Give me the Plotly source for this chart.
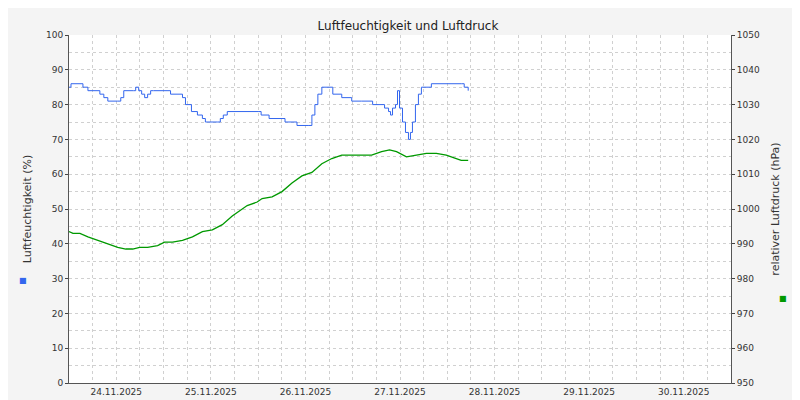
import datetime as dt
import plotly.graph_objects as go

START = dt.datetime(2025, 11, 24)
PX_PER_DAY = 95.0
X0 = 61

# humidity readings: pixel column -> percent
hum_px = [61, 63, 75, 80, 92, 96, 100, 110, 113, 116, 126, 128, 131, 134, 137, 140, 143, 146,
          163, 175, 178, 184, 190, 195, 198, 210, 213, 216, 220, 251, 254, 262, 278, 290, 302,
          305, 308, 311, 315, 323, 326, 335, 345, 355, 366, 378, 382, 384, 386, 389, 391, 393,
          396, 399, 402, 404, 406, 409, 412, 415, 425, 455, 458, 462]
hum_val = [85, 86, 85, 84, 83, 82, 81, 81, 82, 84, 84, 85, 84, 83, 82, 83, 84, 84,
           83, 82, 80, 78, 77, 76, 75, 75, 76, 77, 78, 78, 77, 76, 75, 74, 74,
           77, 80, 83, 85, 85, 83, 82, 81, 81, 80, 79, 78, 77, 79, 80, 84, 79,
           75, 72, 70, 72, 75, 80, 83, 85, 86, 86, 85, 84]

# pressure readings: pixel column -> hPa
pres_px = [61, 65, 72, 80, 90, 100, 110, 118, 125, 132, 140, 150, 157, 165, 175, 185, 195, 205,
           215, 225, 232, 240, 250, 255, 265, 275, 285, 295, 305, 315, 325, 335, 350, 365, 375,
           383, 390, 400, 410, 420, 430, 440, 450, 455, 462]
pres_val = [993.5, 993, 993, 992, 991, 990, 989, 988.5, 988.5, 989, 989, 989.5, 990.5, 990.5,
            991, 992, 993.5, 994, 995.5, 998, 999.5, 1001, 1002, 1003, 1003.5, 1005, 1007.5,
            1009.5, 1010.5, 1013, 1014.5, 1015.5, 1015.5, 1015.5, 1016.5, 1017, 1016.5, 1015,
            1015.5, 1016, 1016, 1015.5, 1014.5, 1014, 1014]

day_labels = ["24.11.2025", "25.11.2025", "26.11.2025", "27.11.2025",
              "28.11.2025", "29.11.2025", "30.11.2025"]


def to_time(px):
    return START + dt.timedelta(days=(px - X0) / PX_PER_DAY)


fig = go.Figure()
fig.add_trace(go.Scatter(x=[to_time(p) for p in hum_px], y=hum_val, mode="lines",
                         line=dict(color="#3366ee", width=1, shape="hv"), yaxis="y"))
fig.add_trace(go.Scatter(x=[to_time(p) for p in pres_px], y=pres_val, mode="lines",
                         line=dict(color="#009900", width=1.3), yaxis="y2"))

grid = dict(gridcolor="#d0d0d0", griddash="dot", gridwidth=1)
fig.update_layout(
    width=800, height=400,
    margin=dict(l=61, r=77, t=27, b=25, autoexpand=False),
    paper_bgcolor="#f4f4f4", plot_bgcolor="white",
    showlegend=False,
    font=dict(family="DejaVu Sans", size=9, color="#333"),
    title=dict(text="Luftfeuchtigkeit und Luftdruck", x=0.5, y=0.965,
               font=dict(size=12, color="#222")),
    xaxis=dict(range=[START, START + dt.timedelta(days=7)],
               tickvals=[START + dt.timedelta(days=i, hours=12) for i in range(7)],
               ticktext=day_labels, ticks="", showline=True, linecolor="#555",
               showgrid=False, automargin=False,
               minor=dict(dtick=6 * 3600 * 1000, tick0=START, showgrid=True, **grid)),
    yaxis=dict(range=[0, 100], dtick=10, ticks="outside", ticklen=3, showline=True,
               linecolor="#555", automargin=False,
               title=dict(text="Luftfeuchtigkeit (%)", standoff=12),
               minor=dict(dtick=5, showgrid=True, **grid), **grid),
    yaxis2=dict(range=[950, 1050], dtick=10, overlaying="y", side="right", ticks="outside",
                ticklen=3, showline=True, linecolor="#555", showgrid=False, automargin=False,
                title=dict(text="relativer Luftdruck (hPa)", standoff=12)),
)
# legend squares and vertical credit
fig.add_annotation(x=-0.078, y=0.275, xref="paper", yref="paper", text="■", showarrow=False,
                   font=dict(color="#3366ee", size=8))
fig.add_annotation(x=1.087, y=0.225, xref="paper", yref="paper", text="■", showarrow=False,
                   font=dict(color="#009900", size=8))
fig.add_annotation(x=1.142, y=0.85, xref="paper", yref="paper", text="RRDTOOL / TOBI OETIKER",
                   textangle=90, showarrow=False, font=dict(color="#bbbbbb", size=7))
fig.write_html("out.html")
